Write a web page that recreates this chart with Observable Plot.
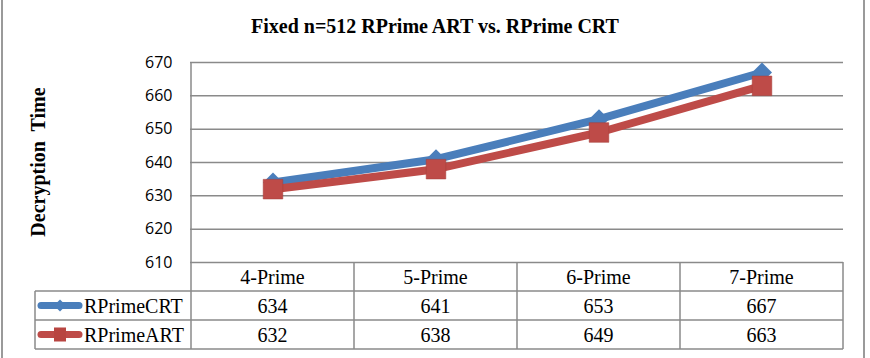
<!DOCTYPE html>
<html><head><meta charset="utf-8">
<script src="https://cdn.jsdelivr.net/npm/d3@7"></script>
<script src="https://cdn.jsdelivr.net/npm/@observablehq/plot@0.6"></script>
<style>
body{margin:0;background:#fff;}
#wrap{position:relative;width:870px;height:358px;overflow:hidden;}
#title{position:absolute;left:0;width:870px;top:15px;text-align:center;font:bold 20px "Liberation Serif",serif;color:#000;}
#frameL,#frameR{position:absolute;top:0;width:2px;height:358px;background:#9a9a9a;}
#frameL{left:1px}#frameR{left:863px}
.tbl{font-family:"Liberation Serif","Times New Roman",serif !important;font-size:20px;}
</style></head><body>
<div id="wrap"><div id="frameL"></div><div id="frameR"></div><div id="chart"></div><div id="title">Fixed n=512 RPrime ART vs. RPrime CRT</div></div>
<script>
const categories = ["4-Prime","5-Prime","6-Prime","7-Prime"];
const seriesNames = ["RPrimeCRT","RPrimeART"];
const crt = [634,641,653,667];
const art = [632,638,649,663];
const yTicks = [610,620,630,640,650,660,670];
const colors = {RPrimeCRT:"#4A7EBB", RPrimeART:"#BE4B48"};

const data = [];
categories.forEach((c,i)=>{
  data.push({cat:c, series:"RPrimeCRT", v:crt[i]});
  data.push({cat:c, series:"RPrimeART", v:art[i]});
});
const crtData = data.filter(d=>d.series==="RPrimeCRT");
const artData = data.filter(d=>d.series==="RPrimeART");

const plot = Plot.plot({
  width: 870, height: 358,
  marginLeft: 190, marginRight: 27, marginTop: 62, marginBottom: 96,
  style: {background:"transparent", overflow:"visible"},
  x: {type:"band", domain: categories, padding: 0, axis: null},
  y: {domain:[610,670], ticks: yTicks, label: null, tickSize: 0, tickPadding: 18},
  marks: [
    Plot.gridY(yTicks, {stroke:"#8a8a8a", strokeOpacity:1, strokeWidth:1.5}),
    Plot.axisY(yTicks, {tickSize:0, tickPadding:18, fontSize:16, fill:"#000", fontFamily:"'Open Sans','Liberation Sans',sans-serif", label:null}),
    Plot.line(crtData, {x:"cat", y:"v", stroke:colors.RPrimeCRT, strokeWidth:8, strokeLinecap:"butt"}),
    Plot.dot(crtData, {x:"cat", y:"v", symbol:"diamond2", r:9, fill:colors.RPrimeCRT, stroke:null}),
    Plot.line(artData, {x:"cat", y:"v", stroke:colors.RPrimeART, strokeWidth:8, strokeLinecap:"butt"}),
    Plot.dot(artData, {x:"cat", y:"v", symbol:"square2", r:12.5, fill:colors.RPrimeART, stroke:"#a53e3b", strokeWidth:0.5})
  ]
});
document.getElementById("chart").appendChild(plot);

// Data table under the chart, positioned through the plot's x and y scales
const xs = plot.scale("x");
const ys = plot.scale("y");
const bw = xs.bandwidth;
const x0 = xs.apply(categories[0]);
const x1 = xs.apply(categories[categories.length-1]) + bw;
const yTop = ys.apply(610);
const yPlotTop = ys.apply(670);
const rowH = 29;
const legendLeft = 35;
const svg = d3.select(plot);
const g = svg.append("g").attr("text-anchor","start");
const gray = "#8a8a8a";
g.append("line").attr("x1",x0).attr("x2",x0).attr("y1",yPlotTop).attr("y2",yTop).attr("stroke",gray).attr("stroke-width",1.5);
categories.forEach((c,i)=>{
  const xv = xs.apply(c);
  g.append("line").attr("x1",xv).attr("x2",xv).attr("y1",yTop).attr("y2",yTop+3*rowH).attr("stroke",gray).attr("stroke-width",1.5);
});
g.append("line").attr("x1",x1).attr("x2",x1).attr("y1",yTop).attr("y2",yTop+3*rowH).attr("stroke",gray).attr("stroke-width",1.5);
g.append("line").attr("x1",legendLeft).attr("x2",legendLeft).attr("y1",yTop+rowH).attr("y2",yTop+3*rowH).attr("stroke",gray).attr("stroke-width",1.5);
[1,2,3].forEach(r=>{
  g.append("line").attr("x1",legendLeft).attr("x2",x1).attr("y1",yTop+r*rowH).attr("y2",yTop+r*rowH).attr("stroke",gray).attr("stroke-width",1.5);
});
categories.forEach((c,i)=>{
  const cx = xs.apply(c)+bw/2;
  g.append("text").attr("class","tbl").attr("x",cx).attr("y",yTop+rowH/2).attr("dy","0.35em").attr("text-anchor","middle").text(c);
  g.append("text").attr("class","tbl").attr("x",cx).attr("y",yTop+rowH*1.5).attr("dy","0.35em").attr("text-anchor","middle").text(crt[i]);
  g.append("text").attr("class","tbl").attr("x",cx).attr("y",yTop+rowH*2.5).attr("dy","0.35em").attr("text-anchor","middle").text(art[i]);
});
seriesNames.forEach((s,j)=>{
  const cy = yTop+rowH*(1.5+j);
  g.append("line").attr("x1",41).attr("x2",79).attr("y1",cy).attr("y2",cy).attr("stroke",colors[s]).attr("stroke-width",7).attr("stroke-linecap","round");
  if (s==="RPrimeCRT") {
    g.append("path").attr("d",d3.symbol(d3.symbolDiamond2, 90)()).attr("transform",`translate(60,${cy})`).attr("fill",colors[s]);
  } else {
    g.append("rect").attr("x",54).attr("y",cy-7).attr("width",12).attr("height",14).attr("fill","#b84541");
  }
  g.append("text").attr("class","tbl").attr("x",84).attr("y",cy).attr("dy","0.35em").attr("text-anchor","start").text(s);
});
g.append("text").attr("class","tbl").attr("transform",`translate(45,162) rotate(-90)`).attr("text-anchor","middle").attr("font-weight","bold").style("white-space","pre").text("Decryption  Time");
</script>
</body></html>
